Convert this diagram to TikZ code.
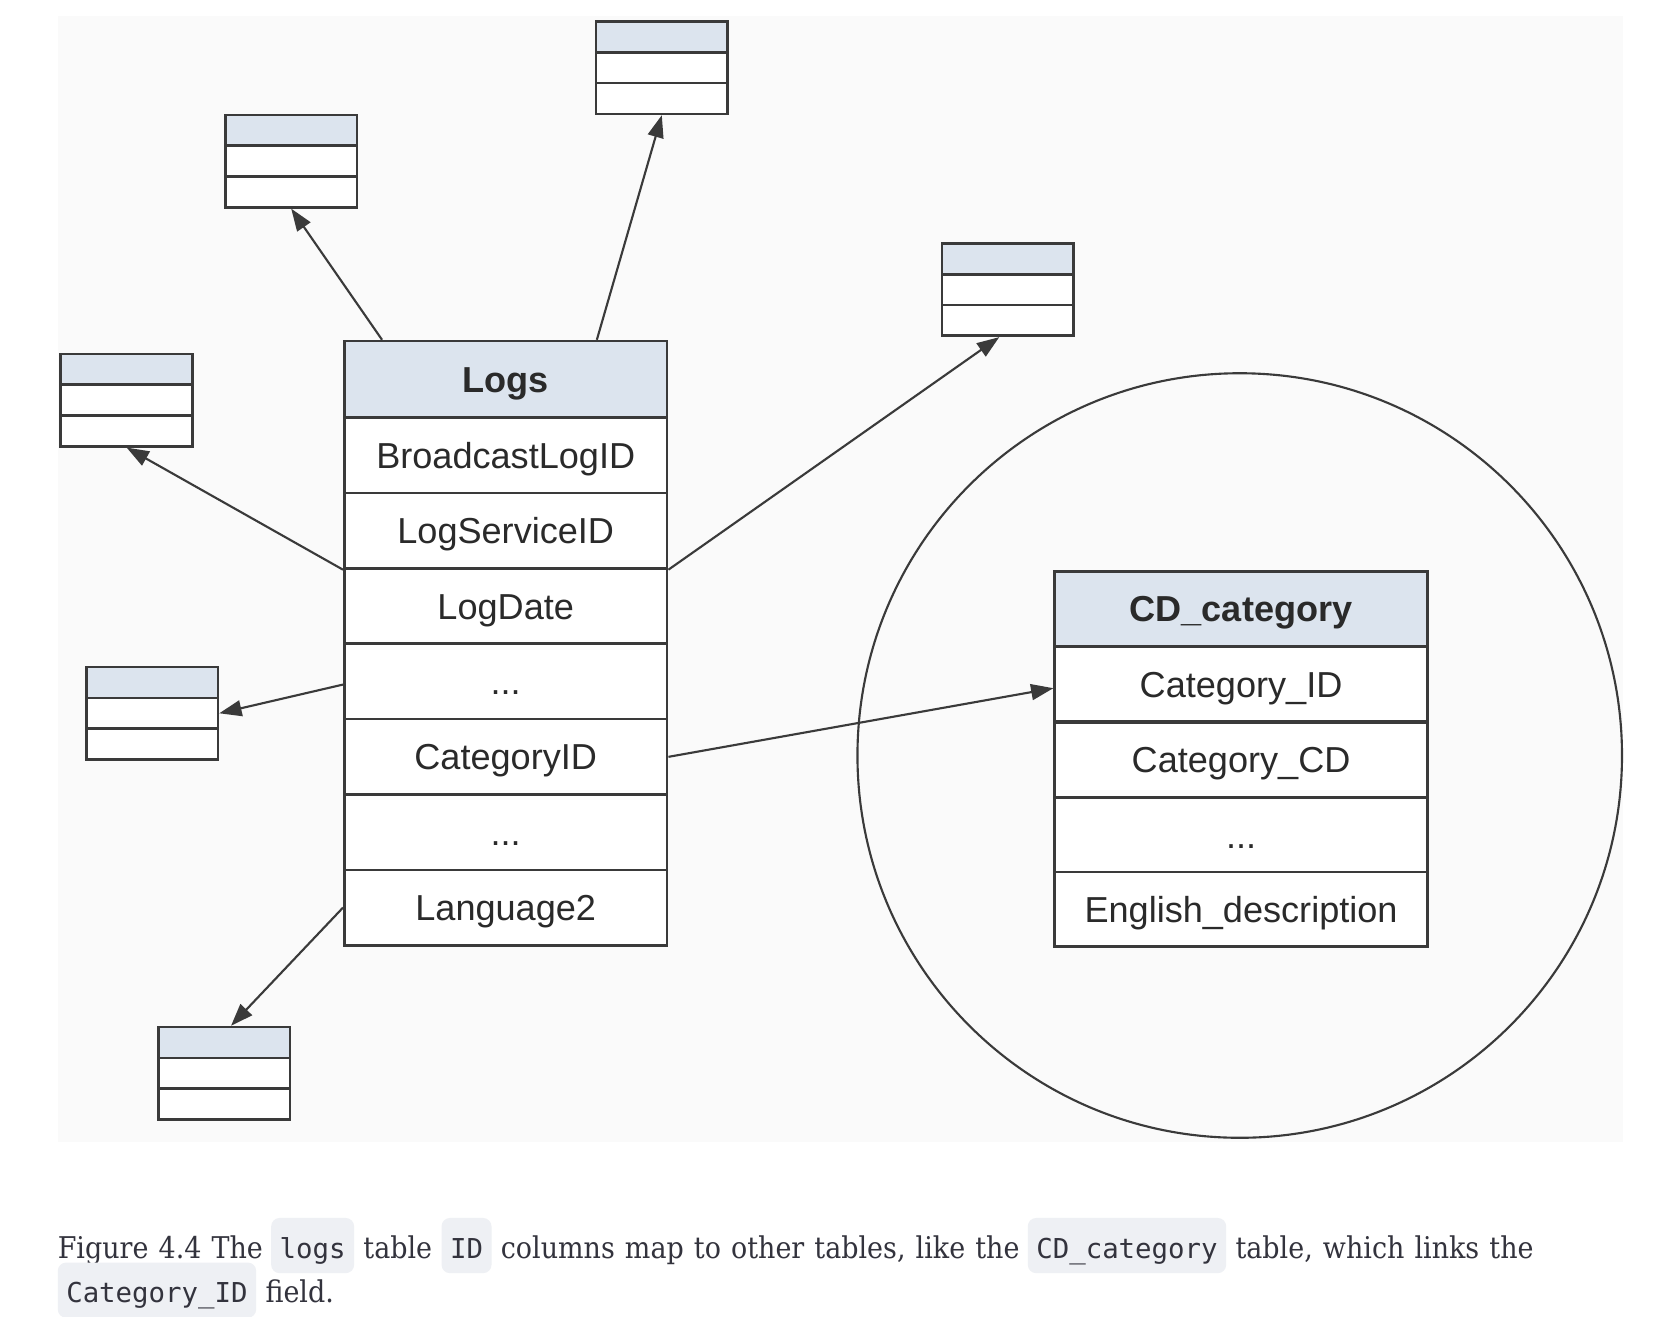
\documentclass[tikz,border=0pt]{standalone}
\usepackage{fontspec}
\setmainfont{Liberation Sans}
\newfontfamily\capfont{DejaVu Serif}[FakeStretch=0.9,WordSpace=1.18]
\newfontfamily\codefont{DejaVu Sans Mono}
\usetikzlibrary{arrows.meta,calc}
\definecolor{hdr}{HTML}{DCE4EE}
\definecolor{ln}{HTML}{3A3A3A}
\definecolor{bgc}{HTML}{FAFAFA}
\definecolor{codebg}{HTML}{EEF0F4}
\definecolor{captxt}{HTML}{33333D}
\definecolor{txt}{HTML}{2A2A2A}
\newcommand\minitab[3]{%
  \node[mini,fill=hdr] (#1a) at (#2,#3) {};
  \node[mini] (#1b) at (#2,{#3+29}) {};
  \node[mini] (#1c) at (#2,{#3+58}) {};}
\begin{document}
\begin{tikzpicture}[x=0.5pt,y=-0.5pt,
  tcell/.style={draw=ln, line width=1.25pt, fill=white, inner sep=0pt, anchor=north west,
    font=\fontsize{17}{20}\selectfont, text=txt, text height=12.2pt, text depth=0pt},
  lrow/.style={tcell, minimum width=152pt, minimum height=35.5pt},
  crow/.style={tcell, minimum width=175.5pt, minimum height=35.2pt},
  hd/.style={fill=hdr, font=\bfseries\fontsize{17}{20}\selectfont},
  mini/.style={draw=ln, line width=1.25pt, fill=white, minimum width=62pt, minimum height=14.5pt,
    inner sep=0pt, anchor=north west},
  link/.style={draw=ln, line width=1pt, -{Triangle[length=10.5pt,width=7.5pt]}},
  captext/.style={font=\capfont\fontsize{14.1}{16}\selectfont, text=captxt, inner sep=0pt, anchor=base west},
  code/.style={font=\codefont\fontsize{12.9}{15}\selectfont, text=captxt, fill=codebg,
    rounded corners=4pt, inner xsep=4pt, inner ysep=0pt, text height=19pt, text depth=7pt, anchor=base west}]
\fill[white] (0,0) rectangle (1568,1240);
\useasboundingbox (0,0) rectangle (1568,1240);
\fill[bgc] (55,15) rectangle (1528,1075);

% focus circle
\node[circle, draw=ln, line width=1pt, minimum size=360pt, inner sep=0pt] (focus) at (1167.5,711.5) {};

% Logs table
\node[lrow,hd,minimum height=36pt] (logsH) at (323,320) {Logs};
\node[lrow] (logs1) at (323,392) {BroadcastLogID};
\node[lrow] (logs2) at (323,463) {LogServiceID};
\node[lrow] (logs3) at (323,534) {LogDate};
\node[lrow] (logs4) at (323,605) {...};
\node[lrow] (logs5) at (323,676) {CategoryID};
\node[lrow] (logs6) at (323,747) {...};
\node[lrow] (logs7) at (323,818) {Language2};

% CD_category table
\node[crow,hd] (cdH) at (992,537) {CD\_category};
\node[crow] (cd1) at (992,608) {Category\_ID};
\node[crow] (cd2) at (992,679) {Category\_CD};
\node[crow] (cd3) at (992,750) {...};
\node[crow] (cd4) at (992,820) {English\_description};

% small tables
\minitab{t1}{211}{107}
\minitab{t2}{560}{19}
\minitab{t3}{886}{228}
\minitab{t4}{56}{332}
\minitab{t5}{80}{627}
\minitab{t6}{148}{966}

% connectors
\draw[link] ($(logsH.north west)!0.12!(logsH.north east)$) -- (t1c.south);
\draw[link] ($(logsH.north west)!0.78!(logsH.north east)$) -- (t2c.south);
\draw[link] (logs2.south west) -- (t4c.south);
\draw[link] (logs2.south east) -- ($(t3c.south west)!0.435!(t3c.south east)$);
\draw[link] ($(logs4.north west)!0.54!(logs4.south west)$) -- (t5b.east);
\draw[link] (logs5.east) -- ($(cd1.north west)!0.55!(cd1.south west)$);
\draw[link] (logs7.west) -- ($(t6a.north west)!0.55!(t6a.north east)$);

% caption
\node[captext] (c1) at (54,1185) {Figure 4.4 The};
\node[code] (k1) at ($(c1.base east)+(7,0)$) {logs};
\node[captext] (c2) at ($(k1.base east)+(8,0)$) {table};
\node[code] (k2) at ($(c2.base east)+(8,0)$) {ID};
\node[captext] (c3) at ($(k2.base east)+(8,0)$) {columns map to other tables, like the};
\node[code] (k3) at ($(c3.base east)+(7,0)$) {CD\_category};
\node[captext] (c4) at ($(k3.base east)+(8,0)$) {table, which links the};
\node[code] (k4) at (54,1227) {Category\_ID};
\node[captext] (c5) at ($(k4.base east)+(8,0)$) {field.};
\end{tikzpicture}
\end{document}
